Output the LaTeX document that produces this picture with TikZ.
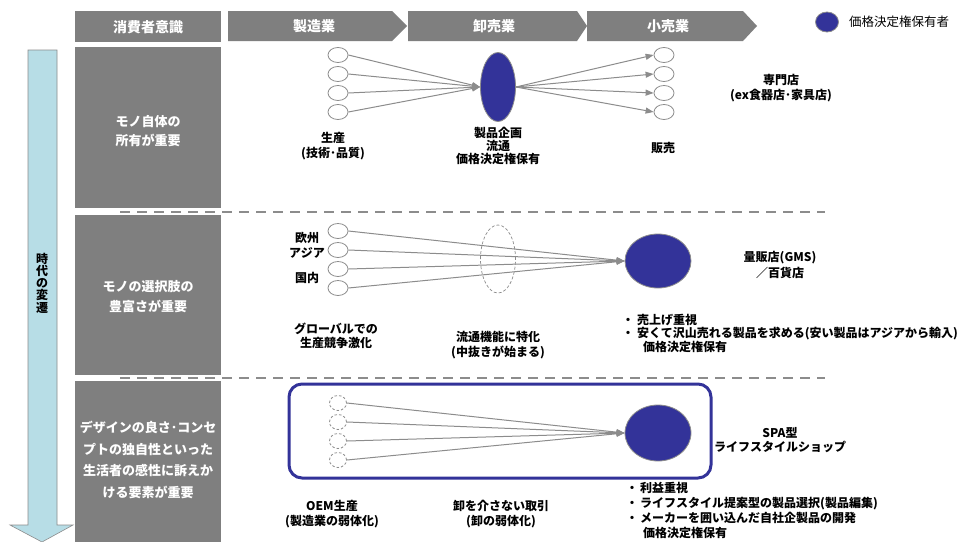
\documentclass[tikz,border=0pt]{standalone}
\usepackage{fontspec}
\newfontfamily\jp{Noto Sans CJK JP}
\usetikzlibrary{shapes.geometric,arrows.meta}
\definecolor{hdr}{HTML}{7F7F7F}
\definecolor{navy}{HTML}{333399}
\definecolor{lblue}{HTML}{B7DDE6}
\definecolor{lgray}{HTML}{8C8C8C}
\begin{document}
\begin{tikzpicture}[x=1pt,y=-1pt,
 hdrtxt/.style={font=\jp\bfseries\fontsize{14}{16}\selectfont, text=white, inner sep=0},
 boxtxt/.style={font=\jp\bfseries\fontsize{13}{19}\selectfont, text=white, align=center, inner sep=0},
 lbl/.style={font=\jp\bfseries\fontsize{12}{14.5}\selectfont, align=center, inner sep=0},
 bul/.style={font=\jp\bfseries\fontsize{12}{13.5}\selectfont, align=left, inner sep=0, anchor=north west},
 sm/.style={ellipse, draw=lgray, line width=0.8, minimum width=20, minimum height=15, inner sep=0},
 smd/.style={sm, dashed, dash pattern=on 2.5pt off 2pt, minimum width=17, minimum height=15},
 big/.style={ellipse, draw=lgray, fill=navy, line width=0.8, inner sep=0},
 arr/.style={draw=lgray, line width=1, -{Triangle[length=8pt,width=6pt]}},
 sep/.style={draw=lgray, line width=2.2, dash pattern=on 10pt off 7pt},
 graybox/.style={fill=hdr},
]
\useasboundingbox (0,0) rectangle (961,541);
\fill[white] (0,0) rectangle (961,541);

% separators (under the gray boxes)
\draw[sep] (120,212) -- (825,212);
\draw[sep] (120,378) -- (825,378);

% left time arrow
\draw[fill=lblue, draw=lgray, line width=0.6] (28,50) -- (57,50) -- (57,525) -- (73,525) -- (42,542) -- (10,525) -- (28,525) -- cycle;
\node[font=\jp\bfseries\fontsize{12}{12.2}\selectfont, align=center, inner sep=0] (era) at (42,283) {時\\代\\の\\変\\遷};

% header
\fill[graybox] (75,11) rectangle (221,42);
\node[hdrtxt] (h0) at (148,27) {消費者意識};
\fill[graybox] (228,11) -- (392,11) -- (407,26) -- (392,41) -- (228,41) -- cycle;
\node[hdrtxt] (h1) at (314,26) {製造業};
\fill[graybox] (408,11) -- (577,11) -- (587,26) -- (577,41) -- (408,41) -- cycle;
\node[hdrtxt] (h2) at (494,26) {卸売業};
\fill[graybox] (587,11) -- (743,11) -- (757,26) -- (743,41) -- (587,41) -- cycle;
\node[hdrtxt] (h3) at (668,26) {小売業};

% legend
\node[big, minimum width=23, minimum height=20] (leg) at (827,22) {};
\node[font=\jp\fontsize{12.5}{14}\selectfont, anchor=west, inner sep=0] (legt) at (849,22) {価格決定権保有者};

% left boxes
\fill[graybox] (75,47) rectangle (221,208);
\node[boxtxt, font=\jp\bfseries\fontsize{13}{18.5}\selectfont] (b1) at (148,131) {モノ自体の\\所有が重要};
\fill[graybox] (75,215) rectangle (221,375);
\node[boxtxt, font=\jp\bfseries\fontsize{13}{20}\selectfont] (b2) at (148,297) {モノの選択肢の\\豊富さが重要};
\fill[graybox] (75,381) rectangle (221,545);
\node[boxtxt, font=\jp\bfseries\fontsize{13}{21.5}\selectfont] (b3) at (148,460) {デザインの良さ･コンセ\\プトの独自性といった\\生活者の感性に訴えか\\ける要素が重要};

% ===== row 1 =====
\node[sm] (a1) at (338,55) {};
\node[sm] (a2) at (338,74) {};
\node[sm] (a3) at (338,93) {};
\node[sm] (a4) at (338,112) {};
\node[big, minimum width=35, minimum height=69] (E1) at (498,87) {};
\node[sm] (r1) at (664,55) {};
\node[sm] (r2) at (664,74) {};
\node[sm] (r3) at (664,93) {};
\node[sm] (r4) at (664,112) {};
\foreach \i in {1,...,4} {
  \draw[arr] (a\i.east) -- (E1.west);
  \draw[arr] (E1.east) -- (r\i.west);
}
\node[lbl] (l11) at (333,146) {生産\\(技術･品質)};
\node[lbl, font=\jp\bfseries\fontsize{12}{13}\selectfont] (l12) at (498,146) {製品企画\\流通\\価格決定権保有};
\node[lbl] (l13) at (663,148) {販売};
\node[lbl] (l14) at (781,88) {専門店\\(ex食器店･家具店)};

% ===== row 2 =====
\node[sm] (c1) at (338,231) {};
\node[sm] (c2) at (338,250) {};
\node[sm] (c3) at (338,269) {};
\node[sm] (c4) at (338,288) {};
\node[ellipse, draw=lgray, dashed, dash pattern=on 3pt off 2pt, line width=0.7, minimum width=35, minimum height=68, inner sep=0] (E2d) at (498,259) {};
\node[big, minimum width=66, minimum height=54] (E2) at (658,261) {};
\foreach \i in {1,...,4} {
  \draw[arr] (c\i.east) -- (E2.west);
}
\node[lbl] (eu) at (307,238) {欧州};
\node[lbl] (as) at (307,253) {アジア};
\node[lbl] (jp) at (307,278) {国内};
\node[lbl] (l21) at (336,336) {グローバルでの\\生産競争激化};
\node[lbl] (l22) at (498,345) {流通機能に特化\\(中抜きが始まる)};
\node[lbl, font=\jp\bfseries\fontsize{12}{16}\selectfont] (l23) at (780,265) {量販店(GMS)\\／百貨店};
\node[bul] (l24) at (622,314) {\makebox[15pt][l]{・}売上げ重視\\\makebox[15pt][l]{・}安くて沢山売れる製品を求める(安い製品はアジアから輸入)\\\hspace*{21pt}価格決定権保有};

% ===== row 3 =====
\draw[navy, line width=3, rounded corners=13] (289,384) rectangle (711,478);
\node[smd] (d1) at (338,403) {};
\node[smd] (d2) at (338,422) {};
\node[smd] (d3) at (338,441) {};
\node[smd] (d4) at (338,460) {};
\node[big, minimum width=66, minimum height=56] (E3) at (658,433) {};
\foreach \i in {1,...,4} {
  \draw[arr] (d\i.east) -- (E3.west);
}
\node[lbl] (l31) at (332,514) {OEM生産\\(製造業の弱体化)};
\node[lbl] (l32) at (501,514) {卸を介さない取引\\(卸の弱体化)};
\node[lbl, font=\jp\bfseries\fontsize{12}{14.5}\selectfont] (l33) at (780,440) {SPA型\\ライフスタイルショップ};
\node[bul, font=\jp\bfseries\fontsize{12}{15}\selectfont] (l34) at (626,482) {\makebox[14pt][l]{・}利益重視\\\makebox[14pt][l]{・}ライフスタイル提案型の製品選択(製品編集)\\\makebox[14pt][l]{・}メーカーを囲い込んだ自社企製品の開発\\\hspace*{17pt}価格決定権保有};
\end{tikzpicture}
\end{document}
